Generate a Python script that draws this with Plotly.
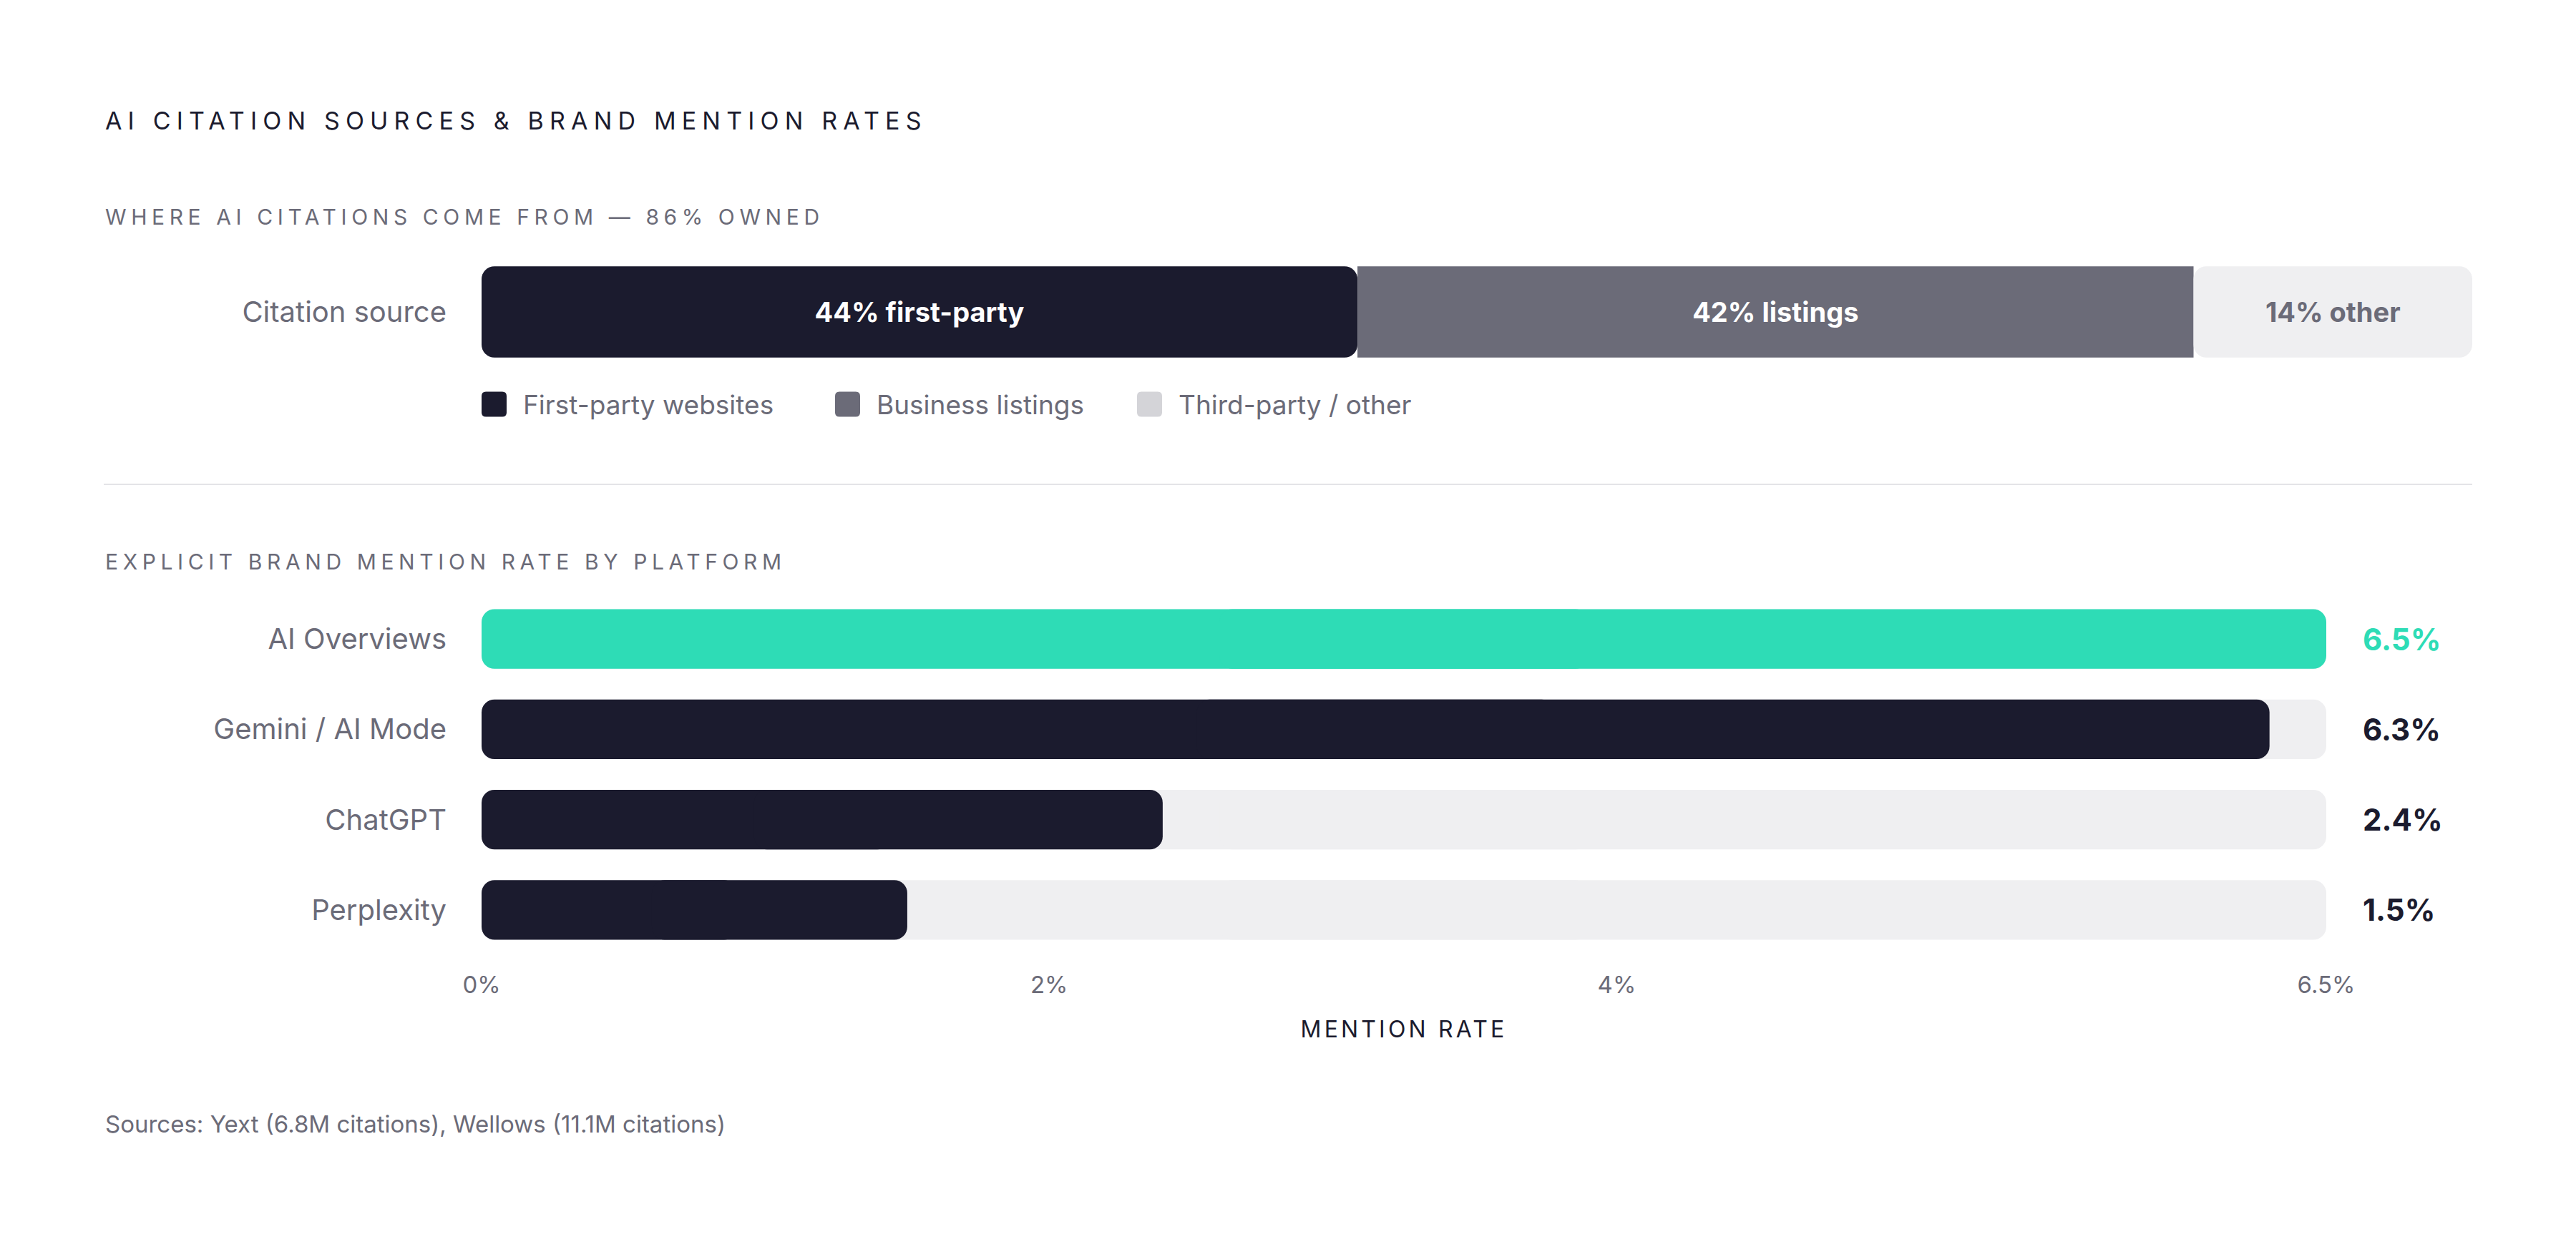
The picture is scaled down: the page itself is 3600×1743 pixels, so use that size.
import plotly.graph_objects as go

W, H = 3600, 1743
OFF = 8  # the page body adds an 8px margin around the figure
FONT = "Inter"
DARK = "#1b1b2e"
GRAY = "#6b6b78"
LIGHT = "#efeff1"
TEAL = "#2edcb6"


def px(x):
    return (x - OFF) / W


def py(y):
    return 1 - (y - OFF) / H


# ---- data: citation sources ----
source_category = ["Citation source"]
source_labels = ["First-party websites", "Business listings", "Third-party / other"]
source_shares = [44, 42, 14]
source_bar_text = ["44% first-party", "42% listings", "14% other"]
source_colors = [DARK, GRAY, LIGHT]
source_legend_colors = [DARK, GRAY, "#d4d4d8"]
source_text_colors = ["#ffffff", "#ffffff", GRAY]

# ---- data: brand mention rate ----
platforms = ["AI Overviews", "Gemini / AI Mode", "ChatGPT", "Perplexity"]
mention_rates = [6.5, 6.3, 2.4, 1.5]
mention_labels = ["6.5%", "6.3%", "2.4%", "1.5%"]
bar_colors = [TEAL, DARK, DARK, DARK]
rate_ticks = [0, 2, 4, 6.5]
rate_tick_text = ["0%", "2%", "4%", "6.5%"]

RADIUS = 18
fig = go.Figure()

# stacked citation bar (explicit bases so each outer end can be rounded)
starts = [sum(source_shares[:i]) for i in range(len(source_shares))]
n = len(source_shares)
for i in range(n):
    s, v = starts[i], source_shares[i]
    if i == 0:
        base, val, rad = s + v, -v, RADIUS       # drawn leftwards -> rounded left end
    elif i == n - 1:
        base, val, rad = s, v, RADIUS           # rounded right end
    else:
        base, val, rad = s, v, 0
    fig.add_trace(go.Bar(
        y=source_category, x=[val], base=[base], orientation="h", name=source_labels[i],
        marker=dict(color=source_colors[i], cornerradius=rad, line=dict(width=0)),
        width=0.76, text=[source_bar_text[i]], textposition="inside",
        insidetextanchor="middle", textangle=0, constraintext="none",
        textfont=dict(family=FONT, size=38, color=source_text_colors[i], weight=700),
        showlegend=False, hoverinfo="skip", xaxis="x", yaxis="y",
    ))

# mention-rate tracks and bars (two overlapping halves -> both ends rounded)
track_max = max(rate_ticks)


def halves(values, colors):
    common = dict(y=platforms, orientation="h", width=0.66, showlegend=False,
                  hoverinfo="skip", xaxis="x2", yaxis="y2",
                  marker=dict(color=colors, cornerradius=RADIUS, line=dict(width=0)))
    left = go.Bar(x=[-0.6 * v for v in values], base=[0.6 * v for v in values], **common)
    right = go.Bar(x=[0.6 * v for v in values], base=[0.4 * v for v in values], **common)
    return [left, right]


for t in halves([track_max] * len(platforms), [LIGHT] * len(platforms)):
    fig.add_trace(t)
for t in halves(mention_rates, bar_colors):
    fig.add_trace(t)


def spaced(text, em):
    return f'<span style="letter-spacing:{em}em">{text}</span>'


annotations = [
    dict(text=spaced("AI CITATION SOURCES & BRAND MENTION RATES", 0.24), x=px(145),
         y=py(168), font=dict(family=FONT, size=34, color=DARK)),
    dict(text=spaced("WHERE AI CITATIONS COME FROM — 86% OWNED", 0.22), x=px(145),
         y=py(303), font=dict(family=FONT, size=30, color=GRAY)),
    dict(text=spaced("EXPLICIT BRAND MENTION RATE BY PLATFORM", 0.22), x=px(145),
         y=py(785), font=dict(family=FONT, size=30, color=GRAY)),
    dict(text="Sources: Yext (6.8M citations), Wellows (11.1M citations)", x=px(145),
         y=py(1571), font=dict(family=FONT, size=33, color=GRAY)),
]
for a in annotations:
    a.update(xref="paper", yref="paper", xanchor="left", yanchor="middle", showarrow=False)

# value labels just right of each track
for p, lab, col in zip(platforms, mention_labels, bar_colors):
    annotations.append(dict(
        text=lab, x=track_max, y=p, xref="x2", yref="y2", xanchor="left", yanchor="middle",
        xshift=49, showarrow=False, font=dict(family=FONT, size=42, color=col, weight=700)))

# legend: rounded swatches + labels
legend_swatch_x = [673, 1167, 1589]
legend_y = 565
SW = 17.5
R = 6
swatch_path = (f"M {-SW + R},{-SW} L {SW - R},{-SW} Q {SW},{-SW} {SW},{-SW + R} "
               f"L {SW},{SW - R} Q {SW},{SW} {SW - R},{SW} L {-SW + R},{SW} "
               f"Q {-SW},{SW} {-SW},{SW - R} L {-SW},{-SW + R} Q {-SW},{-SW} {-SW + R},{-SW} Z")
shapes = [dict(type="line", xref="paper", yref="paper", x0=px(145), x1=px(3455),
               y0=py(677), y1=py(677), line=dict(color="#e4e4e7", width=2))]
for xs, lab, col in zip(legend_swatch_x, source_labels, source_legend_colors):
    shapes.append(dict(type="path", xref="paper", yref="paper", xsizemode="pixel",
                       ysizemode="pixel", xanchor=px(xs + SW), yanchor=py(legend_y),
                       path=swatch_path, fillcolor=col, line=dict(width=0)))
    annotations.append(dict(text=lab, x=px(xs + 56), y=py(legend_y), xref="paper",
                            yref="paper", xanchor="left", yanchor="middle", showarrow=False,
                            font=dict(family=FONT, size=37, color=GRAY)))

fig.update_layout(
    width=W, height=H, margin=dict(l=0, r=0, t=0, b=0),
    paper_bgcolor="white", plot_bgcolor="white",
    barmode="overlay", font=dict(family=FONT, color=GRAY),
    annotations=annotations, shapes=shapes, showlegend=False,
    xaxis=dict(domain=[px(673), px(3455)], range=[0, sum(source_shares)], visible=False,
               anchor="y", fixedrange=True),
    yaxis=dict(domain=[py(520), py(352)], type="category",
               categoryarray=source_category, range=[-0.5, 0.5], showgrid=False,
               zeroline=False, showline=False, ticks="outside", ticklen=40,
               tickcolor="rgba(0,0,0,0)", tickfont=dict(family=FONT, size=40, color=GRAY),
               anchor="x", automargin=False, fixedrange=True),
    xaxis2=dict(domain=[px(673), px(3251)], range=[0, track_max], tickvals=rate_ticks,
                ticktext=rate_tick_text, tickfont=dict(family=FONT, size=33, color=GRAY),
                ticks="outside", ticklen=12, tickcolor="rgba(0,0,0,0)", showgrid=False,
                zeroline=False, showline=False, anchor="y2", automargin=False,
                title=dict(text=spaced("MENTION RATE", 0.13),
                           font=dict(family=FONT, size=32, color=DARK), standoff=33),
                fixedrange=True),
    yaxis2=dict(domain=[py(1335), py(830)], type="category",
                categoryarray=platforms, range=[len(platforms) - 0.5, -0.5],
                showgrid=False, zeroline=False, showline=False, ticks="outside",
                ticklen=40, tickcolor="rgba(0,0,0,0)",
                tickfont=dict(family=FONT, size=40, color=GRAY), anchor="x2",
                automargin=False, fixedrange=True),
)

fig.write_html("out.html")
